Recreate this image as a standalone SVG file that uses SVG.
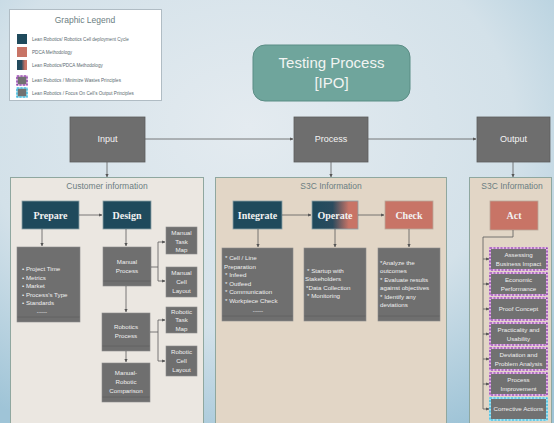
<svg xmlns="http://www.w3.org/2000/svg" width="554" height="423" viewBox="0 0 554 423">
<defs>
<radialGradient id="bg" cx="0.45" cy="0.3" r="0.8">
<stop offset="0" stop-color="#e4ebf0"/>
<stop offset="0.6" stop-color="#d3e1e9"/>
<stop offset="1" stop-color="#9fc4d7"/>
</radialGradient>
<linearGradient id="opg" x1="0" y1="0" x2="1" y2="0">
<stop offset="0" stop-color="#1f4a5c"/>
<stop offset="0.45" stop-color="#2a4b5e"/>
<stop offset="0.8" stop-color="#c87466"/>
<stop offset="1" stop-color="#c87466"/>
</linearGradient>
<marker id="ah" viewBox="0 0 6 6" refX="5.5" refY="3" markerWidth="4" markerHeight="4" orient="auto">
<path d="M0,0 L6,3 L0,6 z" fill="#555"/>
</marker>
<style>
.panelL{fill:#ebe7e1;stroke:#8fa79f;stroke-width:1}
.panelM{fill:#e2d6c6;stroke:#8fa79f;stroke-width:1}
.top{fill:#6e6e6e;stroke:#5c5c5c;stroke-width:0.8}
.toptxt{font-family:"Liberation Sans",Arial,sans-serif;font-size:9px;fill:#f4f4f4;text-anchor:middle}
.hdr{font-family:"Liberation Sans",Arial,sans-serif;font-size:8.5px;fill:#6b7e82;text-anchor:middle}
.teal{fill:#1f4a5c;stroke:#8aa0a6;stroke-width:0.8}
.sal{fill:#c87466;stroke:#b9a89a;stroke-width:0.8}
.ntxt{font-family:"Liberation Serif","Times New Roman",serif;font-size:10px;font-weight:bold;fill:#f2f2f2;text-anchor:middle}
.gbox{fill:#6f6f6f;stroke:#8a8a8a;stroke-width:0.6}
.foot{stroke:#5f5f5f;stroke-width:0.8}
.gtxt{font-family:"Liberation Sans",Arial,sans-serif;font-size:6.2px;fill:#f0f0f0;text-anchor:middle}
.ltxt{font-family:"Liberation Sans",Arial,sans-serif;font-size:6.2px;fill:#f0f0f0}
.pbox{fill:#717171;stroke:#e6b8e6;stroke-width:2}
.pdash{fill:none;stroke:#7a2fa0;stroke-width:1.2;stroke-dasharray:2,1.5}
.cdash{fill:none;stroke:#2fb0d8;stroke-width:1.2;stroke-dasharray:2,1.5}
.con{fill:none;stroke:#5a5a5a;stroke-width:0.8}
.legtxt{font-family:"Liberation Sans",Arial,sans-serif;font-size:4.6px;fill:#5a6a70}
</style>
</defs>
<rect x="0" y="0" width="554" height="423" fill="url(#bg)"/>

<g id="legend">
<rect x="9.5" y="9.5" width="152" height="91" fill="#ffffff" stroke="#b0bcc4" stroke-width="1"/>
<text x="85" y="23" font-family="Liberation Sans,Arial,sans-serif" font-size="8.5" fill="#6b7e82" text-anchor="middle">Graphic Legend</text>
<rect x="17" y="34" width="10" height="10" fill="#1f4a5c"/>
<text class="legtxt" x="32" y="40.5">Lean Robotics/ Robotics Cell deployment Cycle</text>
<rect x="17" y="47" width="10" height="10" fill="#c87466"/>
<text class="legtxt" x="32" y="53.5">PDCA Methodology</text>
<rect x="17" y="60" width="10" height="10" fill="url(#opg)"/>
<text class="legtxt" x="32" y="66.5">Lean Robotics/PDCA Methodology</text>
<rect x="17" y="76" width="10" height="9" fill="#717171" stroke="#e6b8e6" stroke-width="1.5"/>
<rect x="17" y="76" width="10" height="9" class="pdash"/>
<text class="legtxt" x="32" y="82">Lean Robotics / Minimize Wastes Principles</text>
<rect x="17" y="88" width="10" height="9" fill="#717171" stroke="#9fe0f0" stroke-width="1.5"/>
<rect x="17" y="88" width="10" height="9" class="cdash"/>
<text class="legtxt" x="32" y="94.5">Lean Robotics / Focus On Cell's Output Principles</text>
</g>

<g id="title">
<rect x="253" y="45" width="157" height="56" rx="12" fill="#6fa59c" stroke="#5b8d85" stroke-width="1"/>
<text x="331.5" y="68" font-family="Liberation Sans,Arial,sans-serif" font-size="15" fill="#f2f4f2" text-anchor="middle">Testing Process</text>
<text x="331.5" y="88" font-family="Liberation Sans,Arial,sans-serif" font-size="15" fill="#f2f4f2" text-anchor="middle">[IPO]</text>
</g>

<g id="panel-left"><rect class="panelL" x="10.5" y="177.5" width="193" height="250"/>
<text class="hdr" x="107" y="189">Customer information</text></g>
<g id="panel-mid"><rect class="panelM" x="215.5" y="177.5" width="231" height="250"/>
<text class="hdr" x="331" y="189">S3C Information</text></g>
<g id="panel-right"><rect class="panelM" x="469.5" y="177.5" width="82" height="250"/>
<text class="hdr" x="512" y="189">S3C Information</text></g>

<g id="input"><rect class="top" x="70" y="117" width="75" height="45"/><text class="toptxt" x="107.5" y="142">Input</text></g>
<g id="process"><rect class="top" x="294" y="117" width="74" height="45"/><text class="toptxt" x="331" y="142">Process</text></g>
<g id="output"><rect class="top" x="477" y="117" width="73" height="45"/><text class="toptxt" x="513.5" y="142">Output</text></g>

<g id="prepare"><rect class="teal" x="22" y="201" width="57" height="28"/><text class="ntxt" x="50.5" y="218.5">Prepare</text></g>
<g id="design"><rect class="teal" x="103" y="201" width="48" height="28"/><text class="ntxt" x="127" y="218.5">Design</text></g>
<g id="prepare-list"><rect class="gbox" x="17" y="247" width="63" height="75"/><line class="foot" x1="17.5" y1="317" x2="79.5" y2="317"/>
<text class="ltxt" x="22" y="271">• Project Time</text>
<text class="ltxt" x="22" y="279.5">• Metrics</text>
<text class="ltxt" x="22" y="288">• Market</text>
<text class="ltxt" x="22" y="296.5">• Process's Type</text>
<text class="ltxt" x="22" y="305">• Standards</text>
<text class="gtxt" x="42" y="314">-----</text></g>
<g id="manual-process"><rect class="gbox" x="103" y="247" width="48" height="39"/><line class="foot" x1="103.5" y1="281" x2="150.5" y2="281"/>
<text class="gtxt" x="127" y="264">Manual</text><text class="gtxt" x="127" y="273">Process</text></g>
<g id="manual-task-map"><rect class="gbox" x="166" y="227" width="31" height="27"/>
<text class="gtxt" x="181.5" y="235">Manual</text><text class="gtxt" x="181.5" y="243.5">Task</text><text class="gtxt" x="181.5" y="252">Map</text></g>
<g id="manual-cell-layout"><rect class="gbox" x="166" y="267" width="31" height="30"/>
<text class="gtxt" x="181.5" y="275">Manual</text><text class="gtxt" x="181.5" y="284">Cell</text><text class="gtxt" x="181.5" y="293">Layout</text></g>
<g id="robotics-process"><rect class="gbox" x="102" y="313" width="48" height="38"/><line class="foot" x1="102.5" y1="346" x2="149.5" y2="346"/>
<text class="gtxt" x="126" y="329">Robotics</text><text class="gtxt" x="126" y="338">Process</text></g>
<g id="robotic-task-map"><rect class="gbox" x="166" y="307" width="31" height="26"/>
<text class="gtxt" x="181.5" y="313.5">Robotic</text><text class="gtxt" x="181.5" y="322">Task</text><text class="gtxt" x="181.5" y="330.5">Map</text></g>
<g id="robotic-cell-layout"><rect class="gbox" x="166" y="346" width="31" height="30"/>
<text class="gtxt" x="181.5" y="354">Robotic</text><text class="gtxt" x="181.5" y="363">Cell</text><text class="gtxt" x="181.5" y="372">Layout</text></g>
<g id="comparison"><rect class="gbox" x="102" y="363" width="48" height="39"/><line class="foot" x1="102.5" y1="397" x2="149.5" y2="397"/>
<text class="gtxt" x="126" y="375">Manual-</text><text class="gtxt" x="126" y="384">Robotic</text><text class="gtxt" x="126" y="393">Comparison</text></g>

<g id="integrate"><rect class="teal" x="233" y="201" width="49" height="28"/><text class="ntxt" x="257.5" y="218.5">Integrate</text></g>
<g id="operate"><rect x="312" y="201" width="46" height="28" fill="url(#opg)" stroke="#8aa0a6" stroke-width="0.8"/><text class="ntxt" x="335" y="218.5">Operate</text></g>
<g id="check"><rect class="sal" x="385" y="201" width="48" height="28"/><text class="ntxt" x="409" y="218.5">Check</text></g>
<g id="integrate-list"><rect class="gbox" x="222" y="248" width="71" height="73"/><line class="foot" x1="222.5" y1="316" x2="292.5" y2="316"/>
<text class="ltxt" x="225" y="260">* Cell / Line</text>
<text class="ltxt" x="224" y="268.5">Preparation</text>
<text class="ltxt" x="225" y="277">* Infeed</text>
<text class="ltxt" x="225" y="285.5">* Outfeed</text>
<text class="ltxt" x="225" y="294">* Communication</text>
<text class="ltxt" x="225" y="302.5">* Workpiece Check</text>
<text class="gtxt" x="258" y="313">-----</text></g>
<g id="operate-list"><rect class="gbox" x="304" y="248" width="62" height="73"/><line class="foot" x1="304.5" y1="316" x2="365.5" y2="316"/>
<text class="ltxt" x="307" y="272.5">* Startup with</text>
<text class="ltxt" x="305" y="281">Stakeholders</text>
<text class="ltxt" x="306" y="289.5">*Data Collection</text>
<text class="ltxt" x="307" y="298">* Monitoring</text></g>
<g id="check-list"><rect class="gbox" x="378" y="248" width="62" height="73"/><line class="foot" x1="378.5" y1="316" x2="439.5" y2="316"/>
<text class="ltxt" x="380" y="264.5">*Analyze the</text>
<text class="ltxt" x="380" y="273">outcomes</text>
<text class="ltxt" x="380" y="281.5">* Evaluate results</text>
<text class="ltxt" x="380" y="290">against objectives</text>
<text class="ltxt" x="380" y="298.5">* Identify any</text>
<text class="ltxt" x="380" y="307">deviations</text></g>

<g id="act"><rect class="sal" x="490" y="201" width="48" height="29"/><text class="ntxt" x="514" y="218.5">Act</text></g>
<g id="r1"><rect class="pbox" x="490" y="248" width="57" height="22"/><rect class="pdash" x="490" y="248" width="57" height="22"/>
<text class="gtxt" x="518.5" y="257">Assessing</text><text class="gtxt" x="518.5" y="265.5">Business Impact</text></g>
<g id="r2"><rect class="pbox" x="490" y="273" width="57" height="22"/><rect class="pdash" x="490" y="273" width="57" height="22"/>
<text class="gtxt" x="518.5" y="282">Economic</text><text class="gtxt" x="518.5" y="290.5">Performance</text></g>
<g id="r3"><rect class="pbox" x="490" y="298" width="57" height="22"/><rect class="pdash" x="490" y="298" width="57" height="22"/>
<text class="gtxt" x="518.5" y="311">Proof Concept</text></g>
<g id="r4"><rect class="pbox" x="490" y="323" width="57" height="22"/><rect class="pdash" x="490" y="323" width="57" height="22"/>
<text class="gtxt" x="518.5" y="332">Practicality and</text><text class="gtxt" x="518.5" y="340.5">Usability</text></g>
<g id="r5"><rect class="pbox" x="490" y="348" width="57" height="22"/><rect class="pdash" x="490" y="348" width="57" height="22"/>
<text class="gtxt" x="518.5" y="357">Deviation and</text><text class="gtxt" x="518.5" y="365.5">Problem Analysis</text></g>
<g id="r6"><rect class="pbox" x="490" y="373" width="57" height="22"/><rect class="pdash" x="490" y="373" width="57" height="22"/>
<text class="gtxt" x="518.5" y="382">Process</text><text class="gtxt" x="518.5" y="390.5">Improvement</text></g>
<g id="r7"><rect x="490" y="398" width="57" height="22" fill="#717171" stroke="#a8e4f2" stroke-width="2"/><rect class="cdash" x="490" y="398" width="57" height="22"/>
<text class="gtxt" x="518.5" y="411">Corrective Actions</text></g>

<g id="connectors">
<line class="con" x1="145" y1="139" x2="293" y2="139" marker-end="url(#ah)"/>
<line class="con" x1="368" y1="139" x2="476" y2="139" marker-end="url(#ah)"/>
<line class="con" x1="107" y1="162" x2="107" y2="177" marker-end="url(#ah)"/>
<line class="con" x1="331" y1="162" x2="331" y2="177" marker-end="url(#ah)"/>
<line class="con" x1="513" y1="162" x2="513" y2="177" marker-end="url(#ah)"/>
<line class="con" x1="79" y1="215" x2="102" y2="215" marker-end="url(#ah)"/>
<line class="con" x1="42" y1="229" x2="42" y2="246" marker-end="url(#ah)"/>
<line class="con" x1="126" y1="229" x2="126" y2="246" marker-end="url(#ah)"/>
<path class="con" d="M151,267 H158 V242 H165" marker-end="url(#ah)"/>
<path class="con" d="M158,267 V281 H165" marker-end="url(#ah)"/>
<line class="con" x1="126" y1="286" x2="126" y2="312" marker-end="url(#ah)"/>
<path class="con" d="M150,332 H158 V320 H165" marker-end="url(#ah)"/>
<path class="con" d="M158,332 V361 H165" marker-end="url(#ah)"/>
<line class="con" x1="126" y1="351" x2="126" y2="362" marker-end="url(#ah)"/>
<line class="con" x1="282" y1="215" x2="311" y2="215" marker-end="url(#ah)"/>
<line class="con" x1="358" y1="215" x2="384" y2="215" marker-end="url(#ah)"/>
<line class="con" x1="258" y1="229" x2="258" y2="247" marker-end="url(#ah)"/>
<line class="con" x1="335" y1="229" x2="335" y2="247" marker-end="url(#ah)"/>
<line class="con" x1="409" y1="229" x2="409" y2="247" marker-end="url(#ah)"/>
<path class="con" d="M513,230 V237 H483 V409"/>
<line class="con" x1="483" y1="259" x2="489" y2="259" marker-end="url(#ah)"/>
<line class="con" x1="483" y1="284" x2="489" y2="284" marker-end="url(#ah)"/>
<line class="con" x1="483" y1="309" x2="489" y2="309" marker-end="url(#ah)"/>
<line class="con" x1="483" y1="334" x2="489" y2="334" marker-end="url(#ah)"/>
<line class="con" x1="483" y1="359" x2="489" y2="359" marker-end="url(#ah)"/>
<line class="con" x1="483" y1="384" x2="489" y2="384" marker-end="url(#ah)"/>
<line class="con" x1="483" y1="409" x2="489" y2="409" marker-end="url(#ah)"/>
</g>
</svg>
